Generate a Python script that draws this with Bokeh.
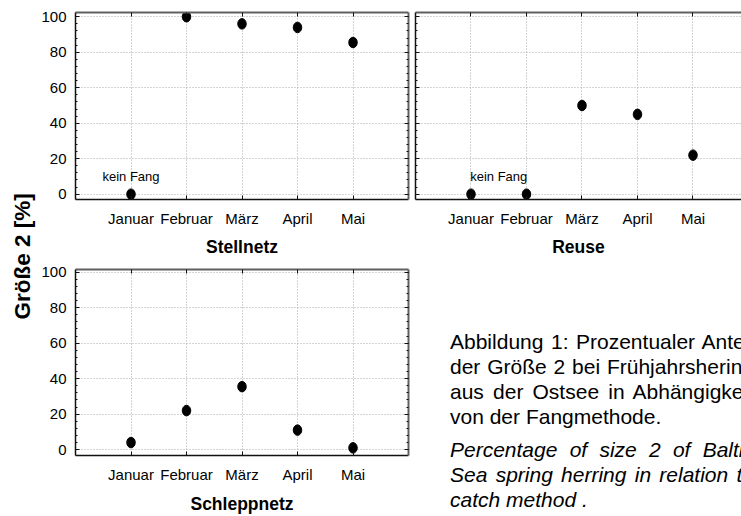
import math
from bokeh.plotting import figure
from bokeh.models import (Range1d, FixedTicker, SingleIntervalTicker, LinearAxis, Div,
                          CustomJSTickFormatter)
from bokeh.layouts import row, column
from bokeh.embed import file_html
from bokeh.resources import INLINE
from bokeh.core.properties import value

# ---------------- data ----------------
months = ["Januar", "Februar", "März", "April", "Mai"]
stellnetz = [0, 100, 96, 94, 85.5]
reuse = [0, 0, 50, 45, 22]
schleppnetz = [4, 22, 35.5, 11, 1]
panel_names = ["Stellnetz", "Reuse", "Schleppnetz"]
note_text = "kein Fang"
y_label = "Größe 2 [%]"
caption_de = ["Abbildung 1: Prozentualer Anteil",
              "der Größe 2 bei Frühjahrshering",
              "aus der Ostsee in Abhängigkeit",
              "von der Fangmethode."]
caption_en = ["Percentage of size 2 of Baltic",
              "Sea spring herring in relation to",
              "catch method ."]

FONT = "Liberation Sans"
x_pos = [i + 1 for i in range(len(months))]
overrides = {x: m for x, m in zip(x_pos, months)}


def style_axis(ax, labels, color, lw):
    ax.major_tick_in = 4
    ax.major_tick_out = 0
    ax.minor_tick_in = 2
    ax.minor_tick_out = 0
    ax.axis_line_color = color
    ax.axis_line_width = lw
    ax.major_tick_line_color = "#111111"
    ax.minor_tick_line_color = "#111111"
    if labels:
        ax.major_label_text_font = FONT
        ax.major_label_text_font_size = "15px"
        ax.major_label_text_color = "black"
    else:
        ax.formatter = CustomJSTickFormatter(code="return '';")
        ax.major_label_standoff = 0


def make_panel(name, values, w, h, x_end, y_rng, mb, left_labels, right_axis,
               note_x, lbl_standoff, axlbl_standoff):
    p = figure(width=w, height=h, x_range=Range1d(0, x_end), y_range=Range1d(*y_rng),
               output_backend="svg", toolbar_location=None,
               x_axis_location=None, y_axis_location=None,
               min_border_left=mb[0], min_border_right=mb[1],
               min_border_top=mb[2], min_border_bottom=mb[3])
    p.outline_line_color = None
    p.background_fill_color = "white"
    p.border_fill_color = "white"

    xt = FixedTicker(ticks=x_pos, minor_ticks=[])
    yt = SingleIntervalTicker(interval=20, num_minor_ticks=5)

    p.xgrid.ticker = xt
    p.ygrid.ticker = yt
    p.grid.grid_line_color = "#a8a8a8"
    p.grid.grid_line_dash = "1 2"
    p.grid.grid_line_width = 1

    bottom = LinearAxis(ticker=xt, major_label_overrides=overrides, axis_label=name)
    style_axis(bottom, True, "#111111", 1.5)
    bottom.major_label_standoff = lbl_standoff
    bottom.axis_label_standoff = axlbl_standoff
    bottom.axis_label_text_font = FONT
    bottom.axis_label_text_font_size = "17.5px"
    bottom.axis_label_text_font_style = "bold"
    bottom.axis_label_text_color = "black"
    p.add_layout(bottom, "below")

    top = LinearAxis(ticker=xt)
    style_axis(top, False, "#606060", 2)
    p.add_layout(top, "above")

    left = LinearAxis(ticker=yt)
    style_axis(left, left_labels, "#111111", 1.5)
    if left_labels:
        left.major_label_standoff = 9
    p.add_layout(left, "left")

    if right_axis:
        right = LinearAxis(ticker=yt)
        style_axis(right, False, "#606060", 2)
        p.add_layout(right, "right")

    p.ellipse(x=x_pos, y=values, width=8.5, height=10.5,
              width_units="screen", height_units="screen",
              fill_color="black", line_color="black")

    if note_x is not None:
        p.text(x=[note_x], y=[10], text=[note_text], text_font=value(FONT),
               text_font_size=value("13px"), text_align="center",
               text_baseline="middle", text_color="black")
    return p


p1 = make_panel(panel_names[0], stellnetz, 373, 262, 6.0, (-3.0, 102.4),
                (37, 3, 12, 63), True, True, 1.0, 10, 7)
p2 = make_panel(panel_names[1], reuse, 330, 262, 5.874, (-3.0, 102.4),
                (4, 0, 12, 63), False, False, 1.5, 10, 7)
p3 = make_panel(panel_names[2], schleppnetz, 373, 254, 6.0, (-3.3, 101.5),
                (37, 3, 7, 59), True, True, None, 10, 8)

# rotated common y label
lf = figure(width=38, height=516, x_range=Range1d(0, 1), y_range=Range1d(0, 1),
            output_backend="svg", toolbar_location=None,
            x_axis_location=None, y_axis_location=None,
            min_border_left=0, min_border_right=0, min_border_top=0, min_border_bottom=0)
lf.grid.visible = False
lf.outline_line_color = None
lf.text(x=[0.58], y=[0.504], text=[y_label], angle=math.pi / 2,
        text_align="center", text_baseline="middle", text_font=value(FONT),
        text_font_size=value("22.5px"), text_font_style="bold", text_color="black")


def para(lines, extra):
    out = []
    for i, ln in enumerate(lines):
        al = "left" if i == len(lines) - 1 else "justify"
        out.append(f'<div style="text-align:{al};text-align-last:{al};{extra}">{ln}</div>')
    return "".join(out)


cap_html = (
    '<div style="width:330px;height:254px;overflow:hidden;position:relative;">'
    '<div style="position:absolute;left:34px;top:62px;width:304px;'
    f"font-family:'{FONT}';font-size:21px;line-height:25px;color:black;\">"
    + para(caption_de, "")
    + '<div style="height:8px"></div>'
    + para(caption_en, "font-style:italic;")
    + "</div></div>"
)
cap = Div(text=cap_html, width=330, height=254)

layout = row(lf, column(row(p1, p2), row(p3, cap)))

with open("out.html", "w") as f:
    f.write(file_html(layout, INLINE))
